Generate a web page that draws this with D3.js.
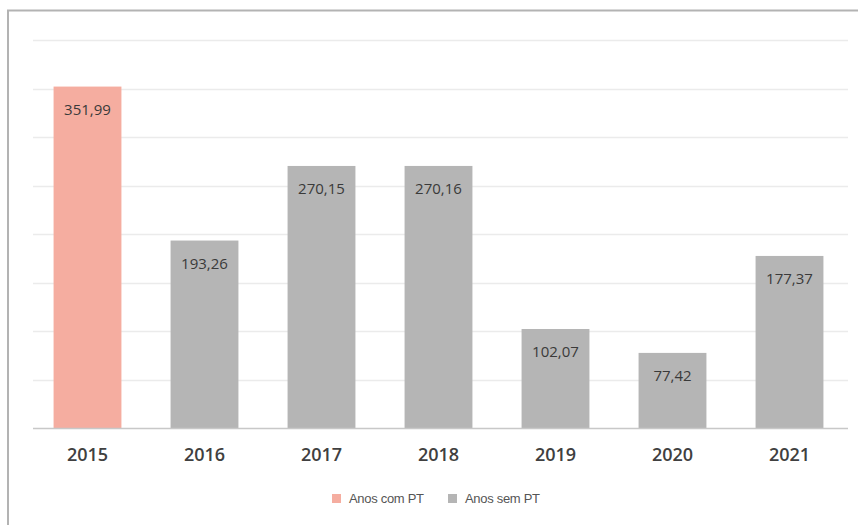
<!DOCTYPE html>
<html>
<head>
<meta charset="utf-8">
<script src="https://cdn.jsdelivr.net/npm/d3@7"></script>
<style>
  html, body { margin: 0; padding: 0; background: #ffffff; }
  svg { display: block; }
</style>
</head>
<body>
<svg id="chart" width="858" height="525"></svg>
<script>
const years = ["2015", "2016", "2017", "2018", "2019", "2020", "2021"];
const values = [351.99, 193.26, 270.15, 270.16, 102.07, 77.42, 177.37];
const groups = ["com", "sem", "sem", "sem", "sem", "sem", "sem"];
const valueLabels = ["351,99", "193,26", "270,15", "270,16", "102,07", "77,42", "177,37"];
const gridTicks = [50, 100, 150, 200, 250, 300, 350, 400];
const legendLabels = ["Anos com PT", "Anos sem PT"];
const legendKeys = ["com", "sem"];

const color = d3.scaleOrdinal().domain(["com", "sem"]).range(["#f5ada0", "#b5b5b5"]);

const svg = d3.select("#chart");

// outer frame
svg.append("rect")
  .attr("x", 8).attr("y", 10.5)
  .attr("width", 900).attr("height", 600)
  .attr("fill", "#ffffff")
  .attr("stroke", "#b3b3b3")
  .attr("stroke-width", 2);

const x = d3.scaleBand()
  .domain(years)
  .range([29, 848])
  .paddingInner(0.42)
  .paddingOuter(0.21);

const y = d3.scaleLinear().domain([0, 400]).range([428, 40]);

// gridlines
svg.append("g")
  .selectAll("line")
  .data(gridTicks)
  .join("line")
  .attr("x1", 33).attr("x2", 848)
  .attr("y1", d => Math.round(y(d)) + 0.5)
  .attr("y2", d => Math.round(y(d)) + 0.5)
  .attr("stroke", "#ebebeb")
  .attr("stroke-width", 1.5);

// bars
const data = years.map((yr, i) => ({ yr, v: values[i], g: groups[i], lab: valueLabels[i] }));

svg.append("g")
  .selectAll("rect")
  .data(data)
  .join("rect")
  .attr("x", d => x(d.yr))
  .attr("y", d => y(d.v))
  .attr("width", x.bandwidth())
  .attr("height", d => y(0) - y(d.v))
  .attr("fill", d => color(d.g));

// value labels
svg.append("g")
  .selectAll("text")
  .data(data)
  .join("text")
  .attr("x", d => x(d.yr) + x.bandwidth() / 2)
  .attr("y", d => y(d.v) + 28)
  .attr("text-anchor", "middle")
  .attr("font-family", "'Open Sans', sans-serif")
  .attr("font-size", 15)
  .attr("fill", "#3a3a3a")
  .text(d => d.lab);

// baseline axis
const xAxis = d3.axisBottom(x).tickSize(0).tickPadding(20);
const ax = svg.append("g").attr("transform", "translate(0,428)").call(xAxis);
ax.select(".domain").remove();
ax.append("line")
  .attr("x1", 33).attr("x2", 848)
  .attr("y1", 0.5).attr("y2", 0.5)
  .attr("stroke", "#c8c8c8")
  .attr("stroke-width", 1.5);
ax.selectAll(".tick text")
  .attr("font-family", "'Open Sans', sans-serif")
  .attr("font-size", 18)
  .attr("font-weight", 600)
  .attr("fill", "#404040");

// legend
const legendX = [332, 448];
const lg = svg.append("g");
legendKeys.forEach((k, i) => {
  lg.append("rect")
    .attr("x", legendX[i]).attr("y", 494)
    .attr("width", 9).attr("height", 9)
    .attr("fill", color(k));
  lg.append("text")
    .attr("x", legendX[i] + 17).attr("y", 503)
    .attr("font-family", "'Liberation Sans', Arial, sans-serif")
    .attr("font-size", 13)
    .attr("letter-spacing", -0.3)
    .attr("fill", "#555555")
    .text(legendLabels[i]);
});
</script>
</body>
</html>
